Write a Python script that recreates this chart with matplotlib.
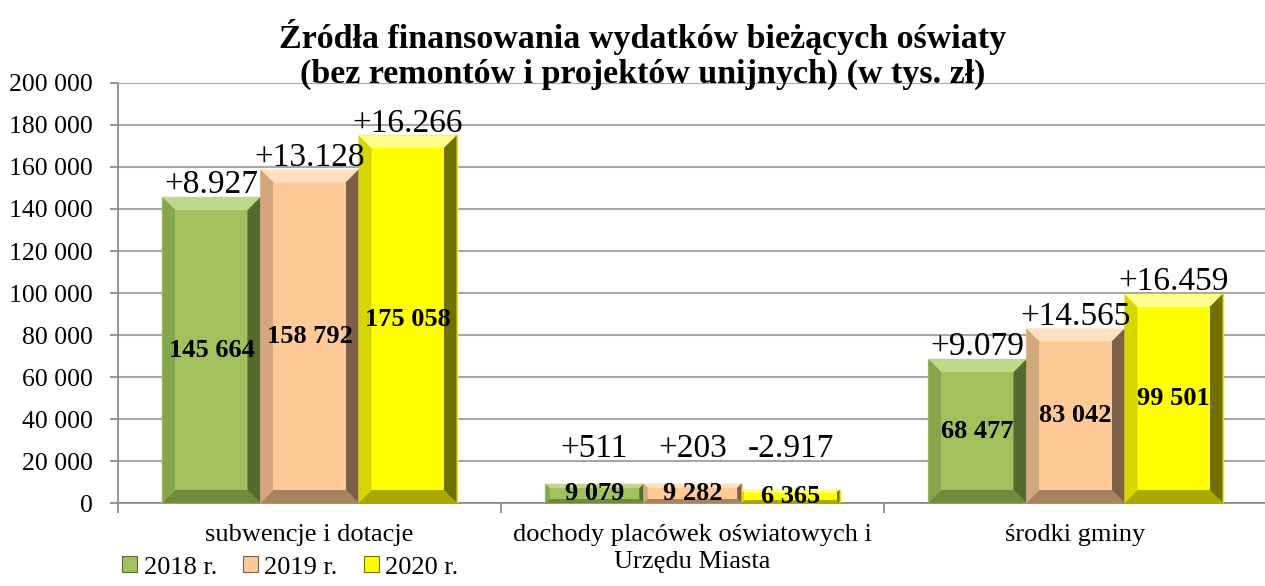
import numpy as np
import matplotlib.pyplot as plt
from matplotlib.patches import Polygon, Rectangle

plt.rcParams['font.family'] = ['Liberation Serif', 'DejaVu Serif']

categories = ["subwencje i dotacje", "dochody placówek oświatowych i\nUrzędu Miasta", "środki gminy"]
years = ["2018 r.", "2019 r.", "2020 r."]
values = {
    "2018 r.": [145664, 9079, 68477],
    "2019 r.": [158792, 9282, 83042],
    "2020 r.": [175058, 6365, 99501],
}
changes = {
    "2018 r.": ["+8.927", "+511", "+9.079"],
    "2019 r.": ["+13.128", "+203", "+14.565"],
    "2020 r.": ["+16.266", "-2.917", "+16.459"],
}

# face, top bevel, left bevel, right bevel, bottom bevel, outline
shades = {
    "2018 r.": ["#a2c15e", "#c0d88a", "#86a64c", "#55692f", "#6f8a3b", "#b9d183"],
    "2019 r.": ["#fdca98", "#fde0c0", "#d2a77e", "#7d6048", "#a7835f", "#f7cfa6"],
    "2020 r.": ["#ffff00", "#ffff8a", "#d6d600", "#707000", "#a8a800", "#e8e800"],
}

fig = plt.figure(figsize=(12.65, 5.86), dpi=100)
ax = fig.add_axes([118 / 1265, 83 / 586, 1149 / 1265, 420 / 586])

x = np.arange(len(categories))
w = 0.256
ax.set_xlim(-0.5, 2.5)
ax.set_ylim(0, 200000)

# pixel -> data conversion for the bevel size
px_x = 3 / 1149
px_y = 200000 / 420

for i, yr in enumerate(years):
    cols = shades[yr]
    bars = ax.bar(x + (i - 1) * w, values[yr], w, color=cols[0], edgecolor=cols[5],
                  linewidth=1, zorder=3)
    for b, v, ch in zip(bars, values[yr], changes[yr]):
        x0, x1 = b.get_x(), b.get_x() + b.get_width()
        y0, y1 = 0, b.get_height()
        bpx = min(13, (y1 / px_y) * 0.22)
        bx, by = bpx * px_x, bpx * px_y
        A, B, C, D = (x0, y0), (x1, y0), (x1, y1), (x0, y1)
        a, bb, c, d = (x0 + bx, y0 + by), (x1 - bx, y0 + by), (x1 - bx, y1 - by), (x0 + bx, y1 - by)
        for pts, col in [([D, C, c, d], cols[1]), ([A, a, d, D], cols[2]),
                         ([B, C, c, bb], cols[3]), ([A, B, bb, a], cols[4])]:
            ax.add_patch(Polygon(pts, closed=True, facecolor=col, edgecolor='none', zorder=4))
        ax.add_patch(Rectangle(a, x1 - x0 - 2 * bx, y1 - y0 - 2 * by, facecolor=cols[0],
                               edgecolor='none', zorder=4))
        cx = (x0 + x1) / 2
        ax.text(cx, v / 2, f"{v:,}".replace(",", " "), ha='center', va='center',
                fontsize=19, fontweight='bold', zorder=6)
        ax.text(cx, max(v, 20000) + 1800, ch, ha='center', va='baseline',
                fontsize=24, zorder=6)

ax.set_yticks(np.arange(0, 200001, 20000))
ax.set_yticklabels([f"{t:,}".replace(",", " ") for t in range(0, 200001, 20000)], fontsize=18.5)
ax.yaxis.grid(True, color='#a6a6a6', linewidth=1.5, zorder=0)
ax.set_axisbelow(True)

ax.set_xticks(x)
ax.set_xticklabels(categories, fontsize=19, linespacing=1.3)
ax.set_xticks(np.arange(-0.5, 3, 1), minor=True)
ax.tick_params(axis='x', which='major', length=0, pad=15)
ax.tick_params(axis='x', which='minor', length=7, color='#8c8c8c', width=1.3)
ax.tick_params(axis='y', length=6, color='#8c8c8c', width=1.3, pad=12)

for s in ['top', 'right']:
    ax.spines[s].set_visible(False)
for s in ['left', 'bottom']:
    ax.spines[s].set_color('#8c8c8c')
    ax.spines[s].set_linewidth(1.3)

fig.text(0.508, 0.968, "Źródła finansowania wydatków bieżących oświaty\n(bez remontów i projektów unijnych) (w tys. zł)",
         ha='center', va='top', fontsize=24.5, fontweight='bold', linespacing=1.15, zorder=10)

handles = [Rectangle((0, 0), 1, 1, facecolor=shades[yr][0], edgecolor=shades[yr][3], linewidth=0.8)
           for yr in years]
fig.legend(handles, years, loc='lower left', bbox_to_anchor=(0.078, -0.028), ncol=3, frameon=False,
           fontsize=19, handlelength=0.55, handleheight=0.55, handletextpad=0.25, columnspacing=1.0)

fig.savefig("out.png", dpi=100)
